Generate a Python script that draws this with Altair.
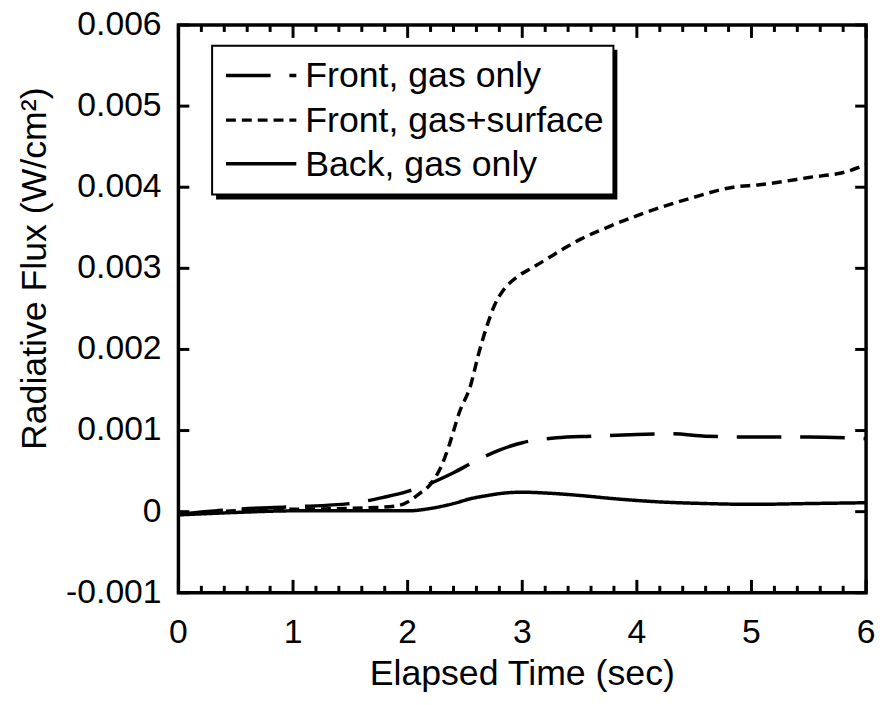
import altair as alt
import pandas as pd

# ---------------- data ----------------
t_front_gas = [0, 0.5, 1.0, 1.5, 1.8, 2.0, 2.2, 2.4, 2.6, 2.8, 3.0, 3.3, 3.6, 4.0, 4.3, 4.6, 5.0, 5.5, 6.0]
v_front_gas = [-0.00003, 0.00003, 0.00006, 0.0001, 0.00018, 0.00025, 0.00035, 0.00048, 0.00063, 0.00076,
               0.00085, 0.00091, 0.00093, 0.00095, 0.00096, 0.00093, 0.00092, 0.00092, 0.00090]

t_front_surf = [0, 0.5, 1.0, 1.5, 1.9, 2.0, 2.1, 2.2, 2.3, 2.36, 2.45, 2.55, 2.62, 2.69, 2.76, 2.83, 2.9,
                2.98, 3.08, 3.22, 3.37, 3.51, 3.7, 4.06, 4.46, 4.84, 5.07, 5.5, 5.85, 6.0]
v_front_surf = [-0.00003, 0.00001, 0.00003, 0.00004, 0.00007, 0.00012, 0.00022, 0.00034, 0.00058, 0.00081,
                0.00122, 0.00156, 0.00195, 0.00228, 0.00255, 0.00272, 0.00283, 0.00292, 0.00300, 0.00312,
                0.00325, 0.00336, 0.00348, 0.00368, 0.00386, 0.00400, 0.00403, 0.00412, 0.00420, 0.00428]

t_back = [0, 0.5, 1.0, 1.5, 2.0, 2.2, 2.4, 2.55, 2.7, 2.85, 3.0, 3.2, 3.5, 3.8, 4.2, 4.6, 5.0, 5.5, 6.0]
v_back = [-0.00004, -0.00001, 0.00001, 0.00001, 0.00001, 0.00004, 0.0001, 0.00016, 0.0002, 0.00023,
          0.00024, 0.00023, 0.0002, 0.00016, 0.00012, 0.0001, 0.00009, 0.0001, 0.00011]

series_names = ["Front, gas only", "Front, gas+surface", "Back, gas only"]
series_dash = [[45, 19], [10, 6], [1, 0]]

x_major = [0, 1, 2, 3, 4, 5, 6]
x_labels = ["0", "1", "2", "3", "4", "5", "6"]
x_minor = [0.2, 0.4, 0.6, 0.8, 1.2, 1.4, 1.6, 1.8, 2.2, 2.4, 2.6, 2.8, 3.2, 3.4, 3.6, 3.8,
           4.2, 4.4, 4.6, 4.8, 5.2, 5.4, 5.6, 5.8]
y_major = [-0.001, 0.0, 0.001, 0.002, 0.003, 0.004, 0.005, 0.006]
y_labels = ["-0.001", "0", "0.001", "0.002", "0.003", "0.004", "0.005", "0.006"]

x_title = "Elapsed Time (sec)"
y_title = "Radiative Flux (W/cm²)"

# ---------------- layout ----------------
W, H = 694, 573
FONT = "Liberation Sans"

rows = []
for name, ts, vs in zip(series_names, [t_front_gas, t_front_surf, t_back],
                        [v_front_gas, v_front_surf, v_back]):
    for t, v in zip(ts, vs):
        rows.append({"series": name, "t": t, "v": v})
df = pd.DataFrame(rows)

xscale = alt.Scale(domain=[0, 6], nice=False, zero=False)
yscale = alt.Scale(domain=[-0.001, 0.006], nice=False, zero=False)

lines = alt.Chart(df).mark_line(color="black", strokeWidth=3.5, interpolate="monotone", clip=True).encode(
    x=alt.X("t:Q", scale=xscale, axis=None),
    y=alt.Y("v:Q", scale=yscale, axis=None),
    strokeDash=alt.StrokeDash("series:N", scale=alt.Scale(domain=series_names, range=series_dash),
                              legend=None),
    detail="series:N",
)

df_xmaj = pd.DataFrame({"t": x_major})
df_xmin = pd.DataFrame({"t": x_minor})
df_ymaj = pd.DataFrame({"v": y_major})

tick_style = dict(color="black", strokeWidth=3)


def xtick(d, y0, y1):
    return alt.Chart(d).mark_rule(**tick_style).encode(
        x=alt.X("t:Q", scale=xscale, axis=None), x2="t:Q",
        y=alt.value(y0), y2=alt.value(y1))


def ytick(d, x0, x1):
    return alt.Chart(d).mark_rule(**tick_style).encode(
        y=alt.Y("v:Q", scale=yscale, axis=None), y2="v:Q",
        x=alt.value(x0), x2=alt.value(x1))


ticks = [
    xtick(df_xmaj, H, H - 13),
    xtick(df_xmin, H, H - 7),
    xtick(df_xmaj, 0, 13),
    xtick(df_xmin, 0, 7),
    ytick(df_ymaj, 0, 11),
    ytick(df_ymaj, W, W - 11),
]

# tick labels and axis titles as text marks
xlab = alt.Chart(pd.DataFrame({"t": x_major, "lab": x_labels})).mark_text(
    font=FONT, fontSize=34, color="black", align="center", baseline="top").encode(
    x=alt.X("t:Q", scale=xscale, axis=None), y=alt.value(H + 24), text="lab:N")
ylab = alt.Chart(pd.DataFrame({"v": y_major, "lab": y_labels})).mark_text(
    font=FONT, fontSize=34, color="black", align="right", baseline="middle").encode(
    y=alt.Y("v:Q", scale=yscale, axis=None), x=alt.value(-17), text="lab:N")

xt = alt.Chart(pd.DataFrame({"lab": [x_title]})).mark_text(
    font=FONT, fontSize=36, color="black", align="center", baseline="alphabetic").encode(
    x=alt.value(W / 2), y=alt.value(H + 93), text="lab:N")
yt = alt.Chart(pd.DataFrame({"lab": [y_title]})).mark_text(
    font=FONT, fontSize=36, color="black", align="center", baseline="middle", angle=270).encode(
    x=alt.value(-145), y=alt.value(246), text="lab:N")

one = pd.DataFrame({"a": [0]})
box_shadow = alt.Chart(one).mark_rect(color="black").encode(
    x=alt.value(38), x2=alt.value(443), y=alt.value(25), y2=alt.value(176))
box = alt.Chart(one).mark_rect(fill="white", stroke="black", strokeWidth=2).encode(
    x=alt.value(34), x2=alt.value(439), y=alt.value(21), y2=alt.value(171))

legend_layers = []
row_y = [51, 96, 140]
for name, dash, ry in zip(series_names, series_dash, row_y):
    d = pd.DataFrame({"label": [name]})
    legend_layers.append(
        alt.Chart(d).mark_rule(color="black", strokeWidth=3.5, strokeDash=dash).encode(
            x=alt.value(48), x2=alt.value(119), y=alt.value(ry), y2=alt.value(ry)))
    legend_layers.append(
        alt.Chart(d).mark_text(align="left", baseline="middle", font=FONT, fontSize=36, color="black").encode(
            x=alt.value(128), y=alt.value(ry + 1), text="label:N"))

chart = alt.layer(lines, xlab, ylab, xt, yt, box_shadow, box, *legend_layers, *ticks).properties(
    width=W, height=H,
    autosize=alt.AutoSizeParams(type="none"),
    padding={"left": 172, "top": 14, "right": 9, "bottom": 98},
    background="white",
).configure_view(stroke="black", strokeWidth=3.5)

chart.save("out.html", embed_options={"renderer": "svg", "actions": False})
